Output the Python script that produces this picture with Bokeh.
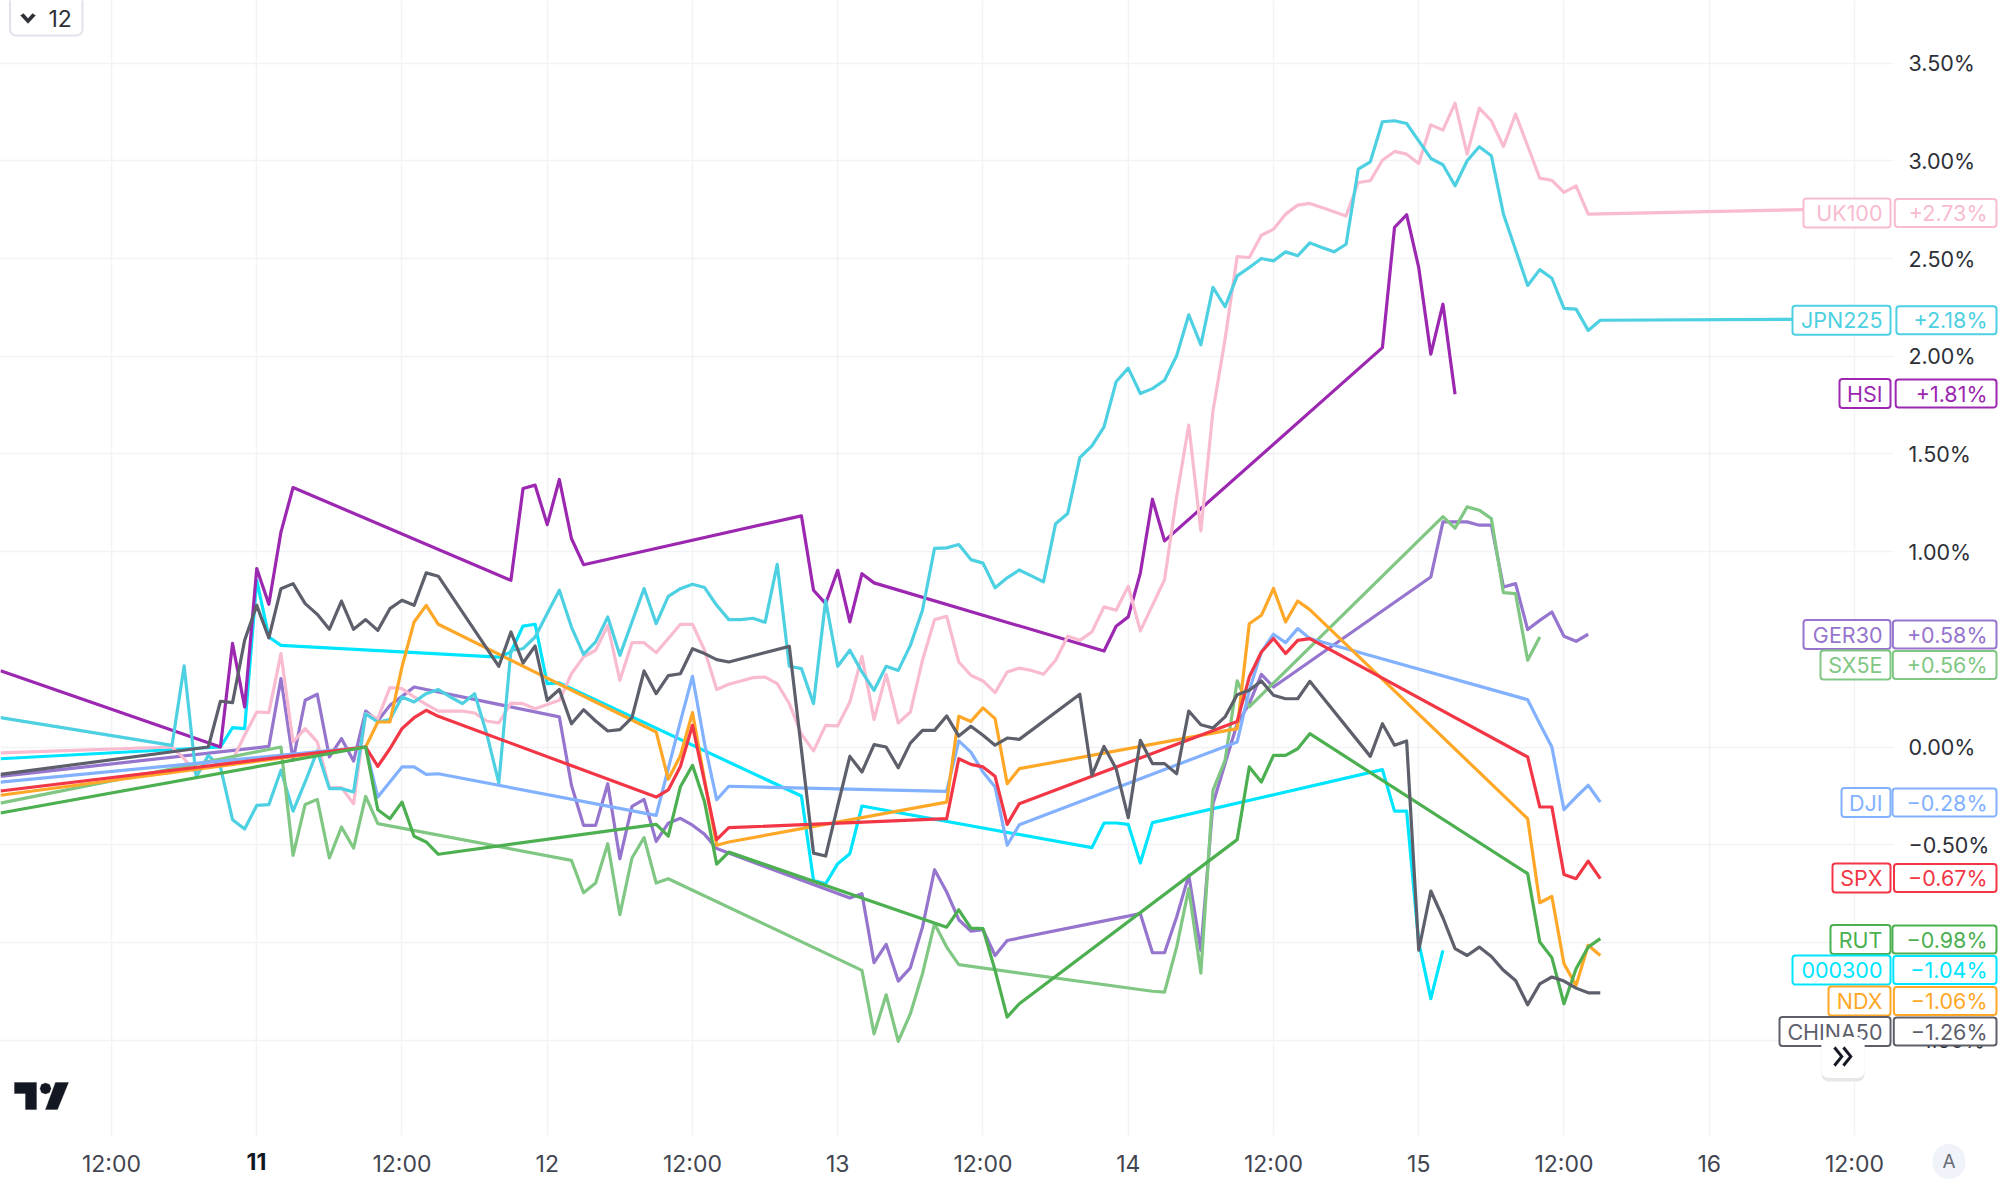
from bokeh.embed import file_html
from bokeh.models import BoxAnnotation, FixedTicker, Label, PolyAnnotation, Range1d
from bokeh.plotting import figure
from bokeh.resources import INLINE

# x = hours since the 10th 00:00, y = percent change
hsi_h = [2.83, 21, 22, 23, 24, 25, 26, 27, 45, 46, 47, 48, 49, 50, 51, 69, 70, 71, 72, 73, 74, 75, 94, 95, 96, 97, 98, 99, 117, 118, 119, 120, 121, 122, 123]
hsi_v = [0.39, 0.0, 0.53, 0.205, 0.913, 0.73, 1.10, 1.328, 0.853, 1.323, 1.34, 1.138, 1.369, 1.067, 0.933, 1.183, 0.802, 0.734, 0.904, 0.64, 0.887, 0.84, 0.491, 0.618, 0.666, 0.89, 1.268, 1.055, 2.044, 2.659, 2.724, 2.454, 2.01, 2.266, 1.805]

china50_h = [2.83, 20, 21, 22, 23, 24, 25, 26, 27, 28, 29, 30, 31, 32, 33, 34, 35, 36, 37, 38, 39, 44, 45, 46, 47, 48, 49, 50, 51, 52, 53, 54, 55, 56, 57, 58, 59, 60, 61, 62, 63, 68, 70, 71, 72, 73, 74, 75, 76, 77, 78, 79, 80, 81, 82, 83, 84, 85, 86, 87, 92, 93, 94, 95, 96, 97, 98, 99, 100, 101, 102, 103, 104, 105, 106, 107, 108, 109, 110, 111, 116, 117, 118, 119, 120, 121, 122, 123, 124, 125, 126, 127, 128, 129, 130, 131, 132, 133, 134, 135]
china50_v = [-0.14, 0.0, 0.234, 0.227, 0.546, 0.725, 0.558, 0.81, 0.836, 0.734, 0.679, 0.602, 0.747, 0.602, 0.652, 0.597, 0.708, 0.751, 0.725, 0.891, 0.874, 0.413, 0.589, 0.43, 0.517, 0.239, 0.294, 0.119, 0.191, 0.133, 0.082, 0.089, 0.15, 0.389, 0.273, 0.365, 0.375, 0.503, 0.478, 0.447, 0.435, 0.515, -0.543, -0.558, -0.30, -0.048, -0.128, 0.012, 0.0, -0.106, 0.02, 0.085, 0.085, 0.159, 0.056, 0.106, 0.06, 0.009, 0.046, 0.039, 0.27, -0.145, 0.003, -0.111, -0.362, 0.034, -0.085, -0.085, -0.137, 0.184, 0.114, 0.097, 0.154, 0.268, 0.29, 0.338, 0.265, 0.247, 0.247, 0.336, -0.048, 0.119, 0.009, 0.031, -1.04, -0.737, -0.874, -1.032, -1.067, -1.024, -1.072, -1.143, -1.195, -1.319, -1.212, -1.177, -1.198, -1.234, -1.258, -1.258]

csi300_h = [2.83, 21, 22, 23, 24, 25, 26, 44, 45, 46, 47, 48, 49, 69, 70, 71, 72, 73, 74, 93, 94, 95, 96, 97, 98, 117, 118, 119, 120, 121, 122]
csi300_v = [-0.06, 0.0, 0.099, 0.094, 0.853, 0.563, 0.52, 0.46, 0.486, 0.619, 0.628, 0.324, 0.328, -0.251, -0.683, -0.70, -0.597, -0.546, -0.302, -0.515, -0.389, -0.389, -0.396, -0.594, -0.387, -0.116, -0.328, -0.328, -1.0, -1.288, -1.041]

jpn225_h = [2.83, 17, 18, 19, 20, 21, 22, 23, 24, 25, 26, 27, 28, 29, 30, 31, 32, 33, 34, 35, 36, 37, 38, 39, 40, 41, 42, 43, 44, 45, 46, 47, 48, 49, 50, 51, 52, 53, 54, 55, 56, 57, 58, 59, 60, 61, 62, 63, 64, 65, 66, 67, 68, 69, 70, 71, 72, 73, 74, 75, 76, 77, 78, 79, 80, 81, 82, 83, 84, 85, 86, 87, 88, 89, 90, 91, 92, 93, 94, 95, 96, 97, 98, 99, 100, 101, 102, 103, 104, 105, 106, 107, 108, 109, 110, 111, 112, 113, 114, 115, 116, 117, 118, 119, 120, 121, 122, 123, 124, 125, 126, 127, 128, 129, 130, 131, 132, 133, 134, 135, 157]
jpn225_v = [0.15, 0.008, 0.415, -0.154, -0.043, -0.102, -0.372, -0.42, -0.299, -0.295, -0.119, -0.328, -0.179, -0.02, -0.213, -0.213, -0.23, 0.17, 0.128, 0.14, 0.256, 0.23, 0.273, 0.294, 0.256, 0.222, 0.273, 0.068, -0.184, 0.495, 0.503, 0.563, 0.683, 0.802, 0.614, 0.474, 0.538, 0.666, 0.469, 0.64, 0.811, 0.631, 0.771, 0.81, 0.833, 0.816, 0.725, 0.652, 0.652, 0.659, 0.638, 0.935, 0.413, 0.401, 0.222, 0.751, 0.413, 0.495, 0.384, 0.29, 0.413, 0.392, 0.52, 0.70, 1.017, 1.019, 1.036, 0.959, 0.941, 0.815, 0.866, 0.906, 0.876, 0.845, 1.143, 1.195, 1.481, 1.541, 1.638, 1.869, 1.939, 1.809, 1.834, 1.877, 2.002, 2.212, 2.058, 2.352, 2.253, 2.411, 2.454, 2.5, 2.488, 2.534, 2.514, 2.58, 2.556, 2.534, 2.573, 2.957, 2.995, 3.2, 3.205, 3.191, 3.102, 3.012, 2.98, 2.872, 3.0, 3.072, 3.026, 2.727, 2.545, 2.362, 2.443, 2.399, 2.245, 2.241, 2.132, 2.184, 2.19]

uk100_h = [2.83, 17, 18, 19, 20, 21, 22, 23, 24, 25, 26, 27, 28, 29, 30, 31, 32, 33, 34, 35, 36, 37, 38, 39, 40, 41, 42, 43, 44, 45, 46, 47, 48, 49, 50, 51, 52, 53, 54, 55, 56, 57, 58, 59, 60, 61, 62, 63, 64, 65, 66, 67, 68, 69, 70, 71, 72, 73, 74, 75, 76, 77, 78, 79, 80, 81, 82, 83, 84, 85, 86, 87, 88, 89, 90, 91, 92, 93, 94, 95, 96, 97, 98, 99, 100, 101, 102, 103, 104, 105, 106, 107, 108, 109, 110, 111, 112, 113, 114, 115, 116, 117, 118, 119, 120, 121, 122, 123, 124, 125, 126, 127, 128, 129, 130, 131, 132, 133, 134, 157]
uk100_v = [-0.03, 0.0, -0.06, -0.137, -0.077, -0.077, -0.068, 0.06, 0.179, 0.176, 0.478, 0.026, 0.094, 0.026, -0.208, -0.208, -0.29, 0.171, 0.145, 0.304, 0.299, 0.256, 0.218, 0.184, 0.184, 0.184, 0.174, 0.133, 0.123, 0.225, 0.222, 0.196, 0.218, 0.239, 0.375, 0.461, 0.495, 0.623, 0.341, 0.534, 0.534, 0.483, 0.555, 0.628, 0.628, 0.495, 0.294, 0.321, 0.338, 0.355, 0.358, 0.324, 0.222, 0.065, -0.02, 0.111, 0.108, 0.23, 0.464, 0.14, 0.372, 0.123, 0.179, 0.444, 0.652, 0.669, 0.435, 0.367, 0.338, 0.278, 0.384, 0.404, 0.392, 0.372, 0.444, 0.567, 0.546, 0.589, 0.717, 0.70, 0.823, 0.594, 0.725, 0.856, 1.28, 1.647, 1.106, 1.72, 2.087, 2.51, 2.505, 2.619, 2.65, 2.727, 2.773, 2.782, 2.761, 2.739, 2.718, 2.889, 2.898, 3.003, 3.048, 3.034, 2.986, 3.184, 3.157, 3.295, 3.034, 3.27, 3.205, 3.073, 3.239, 3.076, 2.911, 2.90, 2.838, 2.872, 2.727, 2.757]

ger30_h = [2.83, 25, 26, 27, 28, 29, 30, 31, 32, 33, 34, 35, 36, 37, 49, 50, 51, 52, 53, 54, 55, 56, 57, 58, 59, 60, 61, 62, 73, 74, 75, 76, 77, 78, 79, 80, 81, 82, 83, 84, 85, 86, 97, 98, 99, 100, 101, 102, 103, 104, 105, 106, 107, 108, 121, 122, 123, 124, 125, 126, 127, 128, 129, 130, 131, 132, 133, 134]
ger30_v = [-0.15, 0.003, 0.35, -0.068, 0.239, 0.27, -0.051, 0.043, -0.072, 0.184, 0.133, 0.213, 0.259, 0.307, 0.154, -0.196, -0.401, -0.401, -0.188, -0.572, -0.304, -0.268, -0.483, -0.39, -0.365, -0.40, -0.447, -0.52, -0.773, -0.751, -1.104, -1.01, -1.198, -1.13, -0.922, -0.628, -0.742, -0.884, -0.942, -0.935, -1.067, -0.99, -0.853, -1.053, -1.053, -0.87, -0.657, -1.041, -0.29, -0.085, 0.119, 0.222, 0.372, 0.307, 0.87, 1.152, 1.152, 1.152, 1.135, 1.136, 0.819, 0.836, 0.601, 0.648, 0.691, 0.567, 0.541, 0.577]

sx5e_h = [2.83, 26, 27, 28, 29, 30, 31, 32, 33, 34, 50, 51, 52, 53, 54, 55, 56, 57, 58, 74, 75, 76, 77, 78, 79, 80, 81, 82, 98, 99, 100, 101, 102, 103, 104, 105, 106, 122, 123, 124, 125, 126, 127, 128, 129, 130]
sx5e_v = [-0.287, 0.0, -0.555, -0.294, -0.268, -0.568, -0.41, -0.517, -0.253, -0.392, -0.58, -0.746, -0.696, -0.495, -0.858, -0.568, -0.464, -0.696, -0.674, -1.143, -1.468, -1.268, -1.507, -1.365, -1.16, -0.904, -1.024, -1.114, -1.25, -1.254, -1.024, -0.725, -1.157, -0.222, -0.068, 0.338, 0.205, 1.179, 1.12, 1.229, 1.212, 1.169, 0.79, 0.785, 0.444, 0.563]

dji_h = [2.83, 33, 34, 35, 36, 37, 38, 39, 57, 58, 59, 60, 61, 62, 63, 81, 82, 83, 84, 85, 86, 87, 105, 106, 107, 108, 109, 110, 111, 129, 130, 131, 132, 133, 134, 135]
dji_v = [-0.18, 0.0, -0.256, -0.179, -0.102, -0.102, -0.14, -0.137, -0.35, -0.11, 0.13, 0.362, 0.017, -0.27, -0.201, -0.227, 0.031, -0.026, -0.128, -0.205, -0.503, -0.398, 0.026, 0.29, 0.486, 0.577, 0.534, 0.606, 0.555, 0.242, 0.119, 0.0, -0.321, -0.256, -0.196, -0.282]

spx_h = [2.83, 33, 34, 35, 36, 37, 38, 39, 57, 58, 59, 60, 61, 62, 63, 81, 82, 83, 84, 85, 86, 87, 105, 106, 107, 108, 109, 110, 111, 129, 130, 131, 132, 133, 134, 135]
spx_v = [-0.225, 0.0, -0.099, -0.009, 0.094, 0.15, 0.188, 0.157, -0.256, -0.22, -0.1, 0.111, -0.18, -0.474, -0.413, -0.367, -0.06, -0.089, -0.102, -0.15, -0.396, -0.29, 0.131, 0.358, 0.486, 0.555, 0.478, 0.546, 0.555, -0.051, -0.307, -0.307, -0.652, -0.674, -0.584, -0.674]

rut_h = [2.83, 33, 34, 35, 36, 37, 38, 39, 57, 58, 59, 60, 61, 62, 63, 81, 82, 83, 84, 85, 86, 87, 105, 106, 107, 108, 109, 110, 111, 129, 130, 131, 132, 133, 134, 135]
rut_v = [-0.338, 0.0, -0.321, -0.367, -0.282, -0.457, -0.486, -0.549, -0.396, -0.456, -0.203, -0.094, -0.282, -0.60, -0.538, -0.922, -0.833, -0.927, -0.93, -1.143, -1.382, -1.314, -0.474, -0.102, -0.179, -0.043, -0.043, -0.009, 0.068, -0.648, -0.998, -1.078, -1.314, -1.135, -1.024, -0.981]

ndx_h = [2.83, 33, 34, 35, 36, 37, 38, 39, 57, 58, 59, 60, 61, 62, 63, 81, 82, 83, 84, 85, 86, 87, 105, 106, 107, 108, 109, 110, 111, 129, 130, 131, 132, 133, 134, 135]
ndx_v = [-0.247, 0.0, 0.128, 0.128, 0.41, 0.64, 0.725, 0.628, 0.077, -0.165, -0.045, 0.176, -0.17, -0.503, -0.486, -0.282, 0.157, 0.131, 0.2, 0.145, -0.188, -0.111, 0.094, 0.631, 0.674, 0.811, 0.64, 0.747, 0.703, -0.367, -0.797, -0.765, -1.109, -1.22, -1.015, -1.067]

# draw order is bottom to top
series_x = [csi300_h, hsi_h, ger30_h, uk100_h, jpn225_h, sx5e_h, dji_h, ndx_h, spx_h, rut_h, china50_h]
series_y = [csi300_v, hsi_v, ger30_v, uk100_v, jpn225_v, sx5e_v, dji_v, ndx_v, spx_v, rut_v, china50_v]
series_colors = ["#00e5ff", "#9c27b0", "#9575cd", "#f8bbd0", "#4dd0e1", "#81c784", "#82b1ff", "#ffa726", "#f23645", "#4caf50", "#5d606b"]

tag_names = ["UK100", "JPN225", "HSI", "GER30", "SX5E", "DJI", "SPX", "RUT", "000300", "NDX", "CHINA50"]
tag_values = ["+2.73%", "+2.18%", "+1.81%", "+0.58%", "+0.56%", "−0.28%", "−0.67%", "−0.98%", "−1.04%", "−1.06%", "−1.26%"]
tag_colors = ["#f8bbd0", "#4dd0e1", "#9c27b0", "#9575cd", "#81c784", "#82b1ff", "#f23645", "#4caf50", "#00e5ff", "#ffa726", "#5d606b"]

x_ticks = [12, 24, 36, 48, 60, 72, 84, 96, 108, 120, 132, 144, 156]
x_tick_labels = ["12:00", " ", "12:00", "12", "12:00", "13", "12:00", "14", "12:00", "15", "12:00", "16", "12:00"]
y_ticks = [3.5, 3.0, 2.5, 2.0, 1.5, 1.0, 0.0, -0.5, -1.0, -1.5]
y_tick_labels = ["3.50%", "3.00%", "2.50%", "2.00%", "1.50%", "1.00%", "0.00%", "−0.50%", "−1.00%", "−1.50%"]

FONT = "Inter"


# page pixel -> chart value
def to_x(px):
    return 12 + (px - 111) / 12.104


def to_y(py):
    return (746.5 - py) / 195.4


p = figure(frame_width=1893, frame_height=1135, output_backend="svg", toolbar_location=None,
           x_range=Range1d(to_x(0), to_x(1893)), y_range=Range1d(to_y(1135), to_y(0)),
           y_axis_location="right", min_border_left=0, min_border_top=0,
           min_border_right=106, min_border_bottom=50)
p.outline_line_color = None

p.xaxis.ticker = FixedTicker(ticks=x_ticks)
p.xaxis.major_label_overrides = dict(zip(x_ticks, x_tick_labels))
p.yaxis.ticker = FixedTicker(ticks=y_ticks)
p.yaxis.major_label_overrides = dict(zip(y_ticks, y_tick_labels))
for ax in (p.xaxis[0], p.yaxis[0]):
    ax.axis_line_color = None
    ax.major_tick_line_color = None
    ax.minor_tick_line_color = None
    ax.major_label_text_font = FONT
p.xaxis.major_label_text_font_size = "23px"
p.yaxis.major_label_text_font_size = "21.5px"
p.xaxis.major_label_text_color = "#42454f"
p.xaxis.major_label_standoff = 8
p.yaxis.major_label_text_color = "#2e3038"
p.yaxis.major_label_standoff = 9
p.grid.grid_line_color = "#f2f3f6"
p.grid.grid_line_width = 1.5

for xs, ys, c in zip(series_x, series_y, series_colors):
    p.line(xs, ys, line_color=c, line_width=3.2, line_join="round")


def box(left, right, top, bottom, fill="white", line=None, radius=3, lw=2):
    b = BoxAnnotation(left=left, right=right, top=top, bottom=bottom,
                      left_units="canvas", right_units="canvas", top_units="canvas", bottom_units="canvas",
                      fill_color=fill, fill_alpha=1, line_color=line, line_width=lw,
                      line_alpha=1, border_radius=radius)
    p.add_layout(b)


def text(px, py, s, color, size="21.5px", align="left", style="normal", side="center"):
    p.add_layout(Label(x=px, y=py, x_units="canvas", y_units="canvas", text=s, text_color=color,
                       text_font=FONT, text_font_size=size, text_align=align,
                       text_baseline="middle", text_font_style=style), side)


# boxes do not show outside the frame, a label with its own border does
def boxed_text(px, py, s, color, pad, side, fill="white", border=None, radius=3, size="21.5px"):
    p.add_layout(Label(x=px, y=py, x_units="canvas", y_units="canvas", text=s, text_color=color,
                       text_font=FONT, text_font_size=size, anchor="center_right",
                       padding=dict(left=pad[0], right=pad[1], top=pad[2], bottom=pad[3]),
                       background_fill_color=fill, background_fill_alpha=1,
                       border_line_color=border, border_line_width=2, border_radius=radius), side)


def poly(points, color):
    p.add_layout(PolyAnnotation(xs=[a for a, b in points], ys=[b for a, b in points],
                                xs_units="canvas", ys_units="canvas",
                                fill_color=color, fill_alpha=1, line_color=color, line_width=1))


# price tags on the right
tag_left = [1803, 1792, 1839, 1803, 1820, 1841, 1832, 1830, 1792, 1828, 1779]
tag_mid = [212.6, 319.8, 393, 634, 664.6, 802, 877.6, 939, 969.6, 1000.6, 1031]
for name, val, c, left, mid in zip(tag_names, tag_values, tag_colors, tag_left, tag_mid):
    box(left, 1890, mid - 14.5, mid + 14.5, line=c)
    text(1882, mid, name, c, align="right")
    boxed_text(1996, mid, val, c, (14 + 3 * val.count("1"), 9, 1, 1), "right", border=c)

# bold day label
text(256, 1161, "11", "#131722", size="23px", align="center", style="bold", side="below")

# interval button
box(9.5, 82, -6, 35, line="#e0e3eb", radius=6)
poly([(20, 15), (23, 13), (27.5, 18), (32, 13), (35, 15), (27.5, 23)], "#2e3038")
text(48, 17.5, "12", "#2e3038", size="23px")

# logo
poly([(14, 1082), (36, 1082), (36, 1109), (25, 1109), (25, 1093), (14, 1093)], "#131722")
poly([(55, 1082), (68, 1082), (57, 1109), (45, 1109)], "#131722")
poly([(45, 1082.5), (49, 1084), (50.5, 1088), (49, 1092), (45, 1093.5), (41, 1092), (39.5, 1088), (41, 1084)], "#131722")

# scroll to latest button
box(1821, 1864, 1040, 1081, fill="#e6e7ea", radius=7)
box(1821, 1864, 1036.5, 1077.5, radius=7)
poly([(1833, 1048), (1835, 1046), (1843, 1056), (1835, 1066), (1833, 1064), (1839.5, 1056)], "#131722")
poly([(1842, 1048), (1844, 1046), (1852, 1056), (1844, 1066), (1842, 1064), (1848.5, 1056)], "#131722")

# auto scale button
boxed_text(1965, 1161, "A", "#6a6d78", (10, 10, 6, 6), "below", fill="#f0f3fa", radius=17, size="19px")

open("out.html", "w").write(file_html(p, INLINE))
